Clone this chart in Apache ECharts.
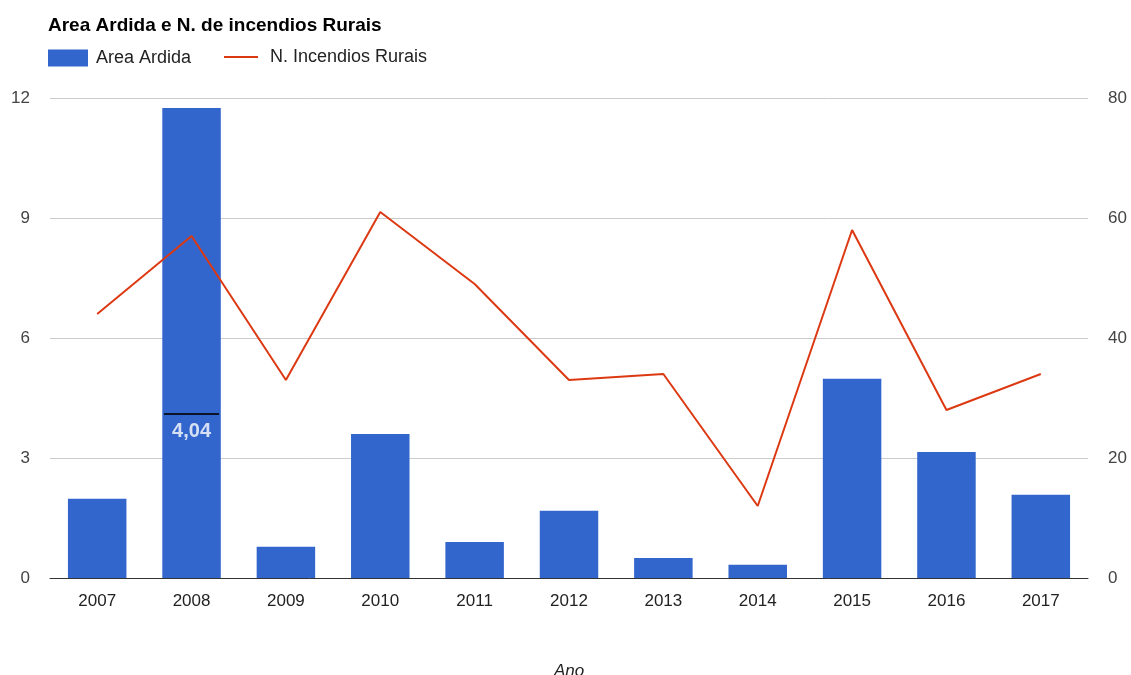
<!DOCTYPE html>
<html><head><meta charset="utf-8">
<script src="https://cdn.jsdelivr.net/npm/echarts@6/dist/echarts.min.js"></script>
<style>html,body{margin:0;padding:0;background:#fff}#c{width:1131px;height:675px}</style>
</head><body><div id="c"></div>
<script>
const years = ['2007','2008','2009','2010','2011','2012','2013','2014','2015','2016','2017'];
const areaArdida = [1.98, 11.75, 0.78, 3.6, 0.9, 1.68, 0.5, 0.33, 4.98, 3.15, 2.08];
const nIncendios = [44, 57, 33, 61, 49, 33, 34, 12, 58, 28, 34];
const leftTicks = [0, 3, 6, 9, 12];
const rightTicks = [0, 20, 40, 60, 80];
const annotationYear = '2008';
const annotationValue = 4.1;
const annotationText = '4,04';

const FONT = '"Liberation Sans", Arial, sans-serif';
const chart = echarts.init(document.getElementById('c'));
chart.setOption({
  animation: false,
  textStyle: { fontFamily: FONT },
  title: {
    text: 'Area Ardida e N. de incendios Rurais',
    left: 48, top: 16, padding: 0,
    textStyle: { fontSize: 19, fontWeight: 'bold', color: '#000', fontFamily: FONT }
  },
  legend: [
    {
      left: 48, top: 49, padding: 0,
      itemWidth: 40, itemHeight: 17,
      textStyle: { fontSize: 18, color: '#222', fontFamily: FONT, padding: [0, 0, 0, 3] },
      data: [{ name: 'Area Ardida', icon: 'rect' }]
    },
    {
      left: 224, top: 48, padding: 0,
      itemWidth: 34, itemHeight: 2,
      textStyle: { fontSize: 18, color: '#222', fontFamily: FONT, padding: [0, 0, 0, 7] },
      data: [{ name: 'N. Incendios Rurais', icon: 'rect' }]
    }
  ],
  grid: { left: 50, right: 43, top: 98, bottom: 97, containLabel: false, outerBoundsMode: 'none' },
  xAxis: {
    type: 'category', data: years,
    name: 'Ano', nameLocation: 'middle', nameGap: 85,
    nameTextStyle: { fontStyle: 'italic', fontSize: 17, color: '#222', fontFamily: FONT },
    axisTick: { show: false },
    axisLine: { show: true, lineStyle: { color: '#333', width: 1 } },
    axisLabel: { fontSize: 17, color: '#222', margin: 15, fontFamily: FONT }
  },
  yAxis: [
    {
      type: 'value', min: leftTicks[0], max: leftTicks[leftTicks.length-1], interval: leftTicks[1]-leftTicks[0],
      axisLine: { show: false }, axisTick: { show: false },
      axisLabel: { fontSize: 17, color: '#444', margin: 20, fontFamily: FONT },
      splitLine: { lineStyle: { color: '#cccccc' } }
    },
    {
      type: 'value', min: rightTicks[0], max: rightTicks[rightTicks.length-1], interval: rightTicks[1]-rightTicks[0],
      axisLine: { show: false }, axisTick: { show: false },
      axisLabel: { fontSize: 17, color: '#444', margin: 20, fontFamily: FONT },
      splitLine: { show: false }
    }
  ],
  series: [
    {
      name: 'Area Ardida', type: 'bar', yAxisIndex: 0, data: areaArdida,
      barCategoryGap: '38%', itemStyle: { color: '#3366cc' }, z: 2
    },
    {
      name: 'N. Incendios Rurais', type: 'line', yAxisIndex: 1, data: nIncendios,
      symbol: 'none', showSymbol: false,
      lineStyle: { color: '#dc3912', width: 2 }, itemStyle: { color: '#dc3912' }, z: 3
    },
    {
      name: 'annotation', type: 'scatter', yAxisIndex: 0,
      data: [[annotationYear, annotationValue]],
      symbol: 'rect', symbolSize: [55, 2],
      itemStyle: { color: '#000' }, z: 4, silent: true,
      label: {
        show: true, position: 'bottom', distance: 6,
        formatter: annotationText,
        fontSize: 20, fontWeight: 'bold', color: '#fff', fontFamily: FONT
      }
    }
  ]
});
</script></body></html>
